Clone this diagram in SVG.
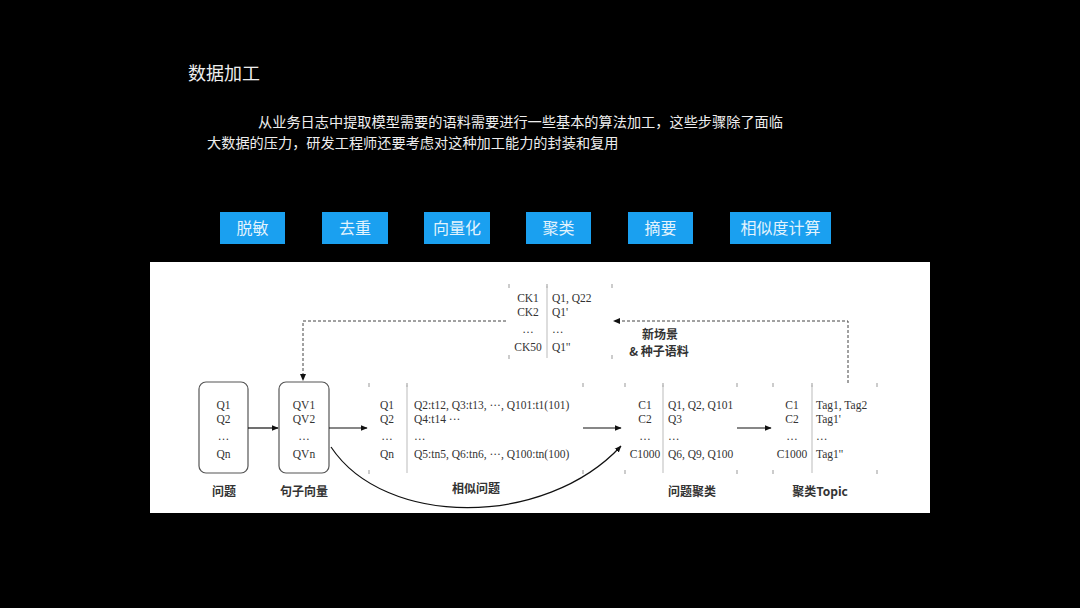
<svg xmlns="http://www.w3.org/2000/svg" width="1080" height="608" viewBox="0 0 1080 608">
<defs>
<marker id="ah" viewBox="0 0 10 10" refX="9" refY="5" markerWidth="7" markerHeight="7" orient="auto" markerUnits="userSpaceOnUse"><path d="M0,1 L10,5 L0,9 z" fill="#111"/></marker>
<style>
.title{font-family:"Noto Sans CJK SC",sans-serif;font-size:18px;fill:#eee}
.para{font-family:"Noto Sans CJK SC",sans-serif;font-size:14.2px;fill:#eee}
.btn{fill:#1aa0f0}
.btnt{font-family:"Noto Sans CJK SC",sans-serif;font-size:16px;fill:#e3f3fd;text-anchor:middle}
.t{font-family:"Liberation Serif","Noto Sans CJK SC",serif;font-size:11.5px;fill:#333}
.tc{font-family:"Liberation Serif","Noto Sans CJK SC",serif;font-size:11.5px;fill:#333;text-anchor:middle}
.lab{font-family:"Noto Sans CJK SC",sans-serif;font-size:12px;font-weight:bold;fill:#333;text-anchor:middle}
.box{fill:#fff;stroke:#555;stroke-width:1.2}
.div{stroke:#bbb;stroke-width:1}
.tick{stroke:#999;stroke-width:1}
.arr{stroke:#111;stroke-width:1.2;fill:none;marker-end:url(#ah)}
.dash{stroke:#444;stroke-width:1;fill:none;stroke-dasharray:3 2}
</style>
</defs>
<rect width="1080" height="608" fill="#000"/>
<g id="header">
<text class="title" x="188" y="80">数据加工</text>
<text class="para" x="258" y="127">从业务日志中提取模型需要的语料需要进行一些基本的算法加工，这些步骤除了面临</text>
<text class="para" x="207" y="148">大数据的压力，研发工程师还要考虑对这种加工能力的封装和复用</text>
</g>
<g id="buttons">
<rect class="btn" x="220" y="212" width="65" height="32"/><text class="btnt" x="252.5" y="234">脱敏</text>
<rect class="btn" x="322" y="212" width="66" height="32"/><text class="btnt" x="355" y="234">去重</text>
<rect class="btn" x="424" y="212" width="66" height="32"/><text class="btnt" x="457" y="234">向量化</text>
<rect class="btn" x="526" y="212" width="65" height="32"/><text class="btnt" x="558.5" y="234">聚类</text>
<rect class="btn" x="628" y="212" width="65" height="32"/><text class="btnt" x="660.5" y="234">摘要</text>
<rect class="btn" x="730" y="212" width="101" height="32"/><text class="btnt" x="780.5" y="234">相似度计算</text>
</g>
<rect id="panel" x="150" y="262" width="780" height="251" fill="#fff"/>
<g id="n-questions">
<rect class="box" x="199" y="382" width="49" height="91" rx="7"/>
<text class="tc" x="223.5" y="409">Q1</text><text class="tc" x="223.5" y="423">Q2</text><text class="tc" x="223.5" y="440">…</text><text class="tc" x="223.5" y="458">Qn</text>
<text class="lab" x="224" y="496">问题</text>
</g>
<g id="n-vectors">
<rect class="box" x="279" y="382" width="50" height="91" rx="7"/>
<text class="tc" x="304" y="409">QV1</text><text class="tc" x="304" y="423">QV2</text><text class="tc" x="304" y="440">…</text><text class="tc" x="304" y="458">QVn</text>
<text class="lab" x="304" y="496">句子向量</text>
</g>
<g id="n-similar">
<path class="tick" d="M369,383v4M369,470v4M407,383v4M583,383v4M583,470v4"/>
<line class="div" x1="407" y1="385" x2="407" y2="473"/>
<text class="tc" x="387" y="409">Q1</text><text class="tc" x="387" y="423">Q2</text><text class="tc" x="387" y="440">…</text><text class="tc" x="387" y="458">Qn</text>
<text class="t" x="414" y="409">Q2:t12, Q3:t13, ···, Q101:t1(101)</text>
<text class="t" x="414" y="423">Q4:t14  ···</text>
<text class="t" x="414" y="440">…</text>
<text class="t" x="414" y="458">Q5:tn5, Q6:tn6, ···, Q100:tn(100)</text>
<text class="lab" x="476" y="493">相似问题</text>
</g>
<g id="n-cluster">
<path class="tick" d="M625,383v4M625,470v4M663,383v4M737,383v4M737,470v4"/>
<line class="div" x1="663" y1="385" x2="663" y2="473"/>
<text class="tc" x="645" y="409">C1</text><text class="tc" x="645" y="423">C2</text><text class="tc" x="645" y="440">…</text><text class="tc" x="645" y="458">C1000</text>
<text class="t" x="668" y="409">Q1, Q2, Q101</text><text class="t" x="668" y="423">Q3</text><text class="t" x="668" y="440">…</text><text class="t" x="668" y="458">Q6, Q9, Q100</text>
<text class="lab" x="692" y="496">问题聚类</text>
</g>
<g id="n-topic">
<path class="tick" d="M773,383v4M773,470v4M812,383v4M877,383v4M877,470v4"/>
<line class="div" x1="812" y1="385" x2="812" y2="473"/>
<text class="tc" x="792" y="409">C1</text><text class="tc" x="792" y="423">C2</text><text class="tc" x="792" y="440">…</text><text class="tc" x="792" y="458">C1000</text>
<text class="t" x="816" y="409">Tag1, Tag2</text><text class="t" x="816" y="423">Tag1'</text><text class="t" x="816" y="440">…</text><text class="t" x="816" y="458">Tag1''</text>
<text class="lab" x="820" y="496">聚类Topic</text>
</g>
<g id="n-ck">
<path class="tick" d="M509,284v4M509,355v4M547,284v4M612,284v4M612,355v4"/>
<line class="div" x1="547" y1="286" x2="547" y2="358"/>
<text class="tc" x="528" y="302">CK1</text><text class="tc" x="528" y="316">CK2</text><text class="tc" x="528" y="333">…</text><text class="tc" x="528" y="351">CK50</text>
<text class="t" x="552" y="302">Q1, Q22</text><text class="t" x="552" y="316">Q1'</text><text class="t" x="552" y="333">…</text><text class="t" x="552" y="351">Q1''</text>
</g>
<g id="n-newscene">
<text class="lab" x="660" y="339">新场景</text>
<text class="lab" x="659" y="356">&amp; 种子语料</text>
</g>
<g id="connectors">
<line class="arr" x1="248" y1="428" x2="278" y2="428"/>
<line class="arr" x1="329" y1="428" x2="367" y2="428"/>
<line class="arr" x1="583" y1="428" x2="621" y2="428"/>
<line class="arr" x1="737" y1="428" x2="771" y2="428"/>
<path class="arr" d="M331,447 C385,528 545,528 621,446"/>
<path class="dash" d="M848,383 V321 H618"/>
<path d="M613,321 l7,-3 v6 z" fill="#111"/>
<path class="dash" d="M506,321 H303 V374"/>
<path d="M303,381 l-3,-7 h6 z" fill="#111"/>
</g>
</svg>
